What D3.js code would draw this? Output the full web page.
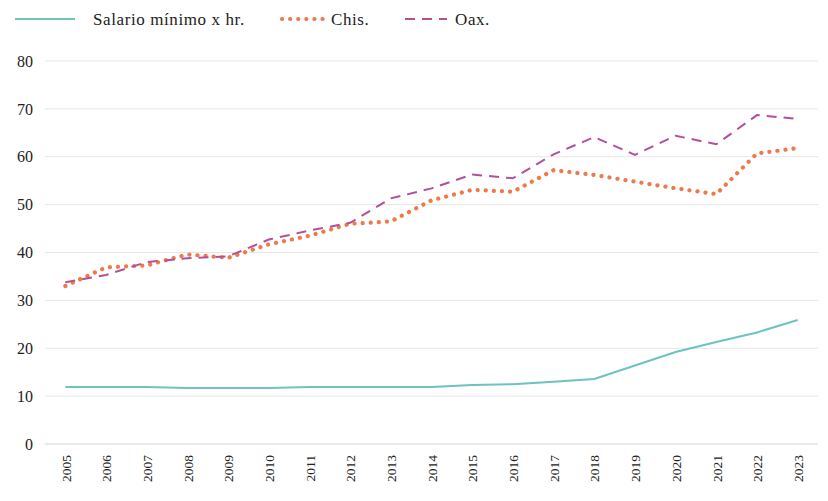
<!DOCTYPE html>
<html>
<head>
<meta charset="utf-8">
<script src="https://cdn.jsdelivr.net/npm/d3@7"></script>
<style>
body { margin: 0; background: #fff; }
svg, svg text, text { font-family: "Liberation Serif" !important; }
</style>
</head>
<body>
<svg id="chart" width="828" height="501" style="font-family: 'Liberation Serif'"></svg>
<script>
var years = ['2005', '2006', '2007', '2008', '2009', '2010', '2011', '2012', '2013', '2014',
	'2015', '2016', '2017', '2018', '2019', '2020', '2021', '2022', '2023'];
var salario = [11.9, 11.9, 11.9, 11.7, 11.7, 11.7, 11.9, 11.9, 11.9, 11.9,
	12.3, 12.5, 13.0, 13.6, 16.4, 19.2, 21.3, 23.3, 25.9];
var chis = [33.0, 36.9, 37.3, 39.6, 38.9, 41.7, 43.5, 46.0, 46.5, 50.9,
	53.1, 52.7, 57.2, 56.2, 54.8, 53.4, 52.2, 60.7, 61.8];
var oax = [33.8, 35.3, 38.0, 38.8, 39.2, 42.7, 44.6, 46.2, 51.3, 53.4,
	56.3, 55.5, 60.5, 64.1, 60.4, 64.4, 62.6, 68.7, 67.9];
var yTicks = [0, 10, 20, 30, 40, 50, 60, 70, 80];

var series = [
	{name: 'Salario mínimo x hr.', values: salario, color: '#6dc3c0', dash: null, cap: 'butt', width: 2},
	{name: 'Chis.', values: chis, color: '#ee7a4c', dash: '0.1,8', cap: 'round', width: 4.2},
	{name: 'Oax.', values: oax, color: '#b44f98', dash: '10,7', cap: 'butt', width: 2}
];

var fontName = 'Liberation Serif';
var svg = d3.select('#chart');
var plotLeft = 45, plotRight = 818, plotTop = 61, plotBottom = 444;

var x = d3.scalePoint().domain(years).range([plotLeft, plotRight]).padding(0.5);
var y = d3.scaleLinear().domain([0, 80]).range([plotBottom, plotTop]);

// grid
svg.append('g').selectAll('line')
	.data(yTicks)
	.enter().append('line')
	.attr('x1', plotLeft).attr('x2', plotRight)
	.attr('y1', function (d) { return y(d); })
	.attr('y2', function (d) { return y(d); })
	.attr('stroke', function (d) { return d === 0 ? '#d4d4d4' : '#e6e6e6'; })
	.attr('stroke-width', 1);

var yAxis = svg.append('g')
	.attr('transform', 'translate(' + (plotLeft - 12) + ',0)')
	.call(d3.axisLeft(y).tickValues(yTicks).tickSize(0).tickPadding(0))
	.attr('font-family', fontName);
yAxis.select('.domain').remove();
yAxis.selectAll('text')
	.attr('font-family', fontName)
	.attr('font-size', 16)
	.attr('fill', '#222');

var xAxis = svg.append('g')
	.attr('transform', 'translate(0,' + plotBottom + ')')
	.call(d3.axisBottom(x).tickSize(0))
	.attr('font-family', fontName);
xAxis.select('.domain').remove();
xAxis.selectAll('text')
	.attr('font-family', fontName)
	.attr('font-size', 13.5)
	.attr('fill', '#222')
	.attr('transform', 'rotate(-90)')
	.attr('text-anchor', 'end')
	.attr('x', -11)
	.attr('y', 0)
	.attr('dy', '0.35em');

var line = d3.line()
	.x(function (d, i) { return x(years[i]); })
	.y(function (d) { return y(d); });

series.forEach(function (s) {
	svg.append('path')
		.datum(s.values)
		.attr('d', line)
		.attr('fill', 'none')
		.attr('stroke', s.color)
		.attr('stroke-width', s.width)
		.attr('stroke-linecap', s.cap)
		.attr('stroke-dasharray', s.dash);
});

// legend
var legendPos = [{x1: 15, x2: 75, tx: 93}, {x1: 282, x2: 324, tx: 331}, {x1: 405, x2: 447, tx: 455}];
series.forEach(function (s, i) {
	var p = legendPos[i];
	svg.append('line')
		.attr('x1', p.x1).attr('x2', p.x2)
		.attr('y1', 19).attr('y2', 19)
		.attr('stroke', s.color)
		.attr('stroke-width', s.width)
		.attr('stroke-linecap', s.cap)
		.attr('stroke-dasharray', s.dash);
	svg.append('text')
		.attr('x', p.tx).attr('y', 19)
		.attr('dy', '0.35em')
		.attr('fill', '#222')
		.attr('font-family', fontName)
		.attr('font-size', 17)
		.attr('letter-spacing', 0.6)
		.text(s.name);
});
</script>
</body>
</html>
